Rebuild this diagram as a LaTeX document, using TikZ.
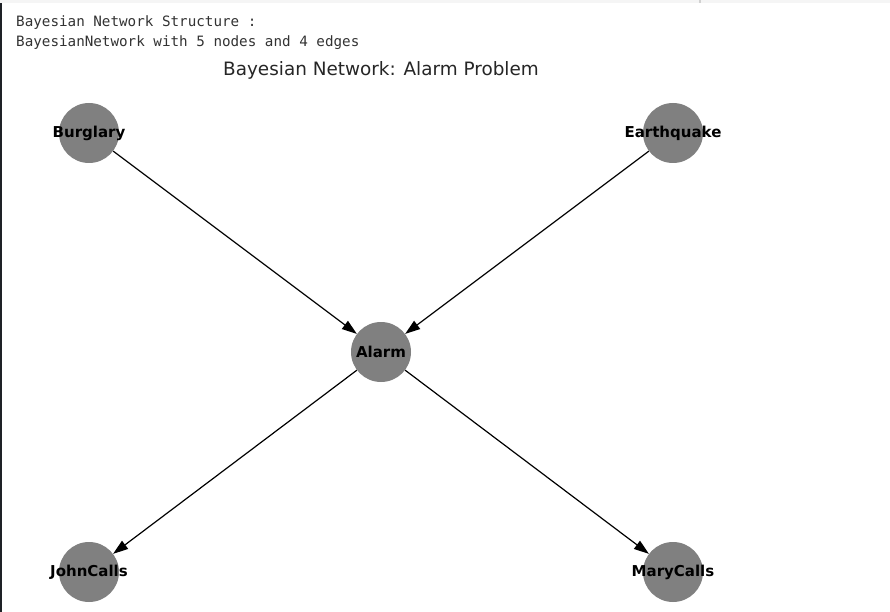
\documentclass[tikz,border=0pt]{standalone}
\usepackage{fontspec}
\setmainfont{DejaVu Sans}
\newfontfamily\monofont{DejaVu Sans Mono}
\usetikzlibrary{arrows.meta}
\definecolor{nodegray}{HTML}{808080}
\definecolor{outtext}{HTML}{333333}
\definecolor{panelbar}{HTML}{1E2126}
\tikzset{bnode/.style={circle, fill=nodegray, minimum size=60pt, inner sep=0pt},
         nodelabel/.style={font=\fontsize{15}{15}\selectfont\bfseries, text=black, inner sep=0pt},
         causal/.style={-{Triangle[length=15pt,width=10pt]}, line width=1.2pt, black}}

\begin{document}
\begin{tikzpicture}[x=1pt,y=-1pt]
    \useasboundingbox (0,0) rectangle (890,612);
    \fill[white] (0,0) rectangle (890,612);
    \fill[black!4] (0,0) rectangle (890,3);
    \fill[black!18] (699,0) rectangle (701,3);
    \fill[panelbar] (0,3) rectangle (2,612);

    \node[anchor=base west, inner sep=0pt, text=outtext, font=\monofont\fontsize{14.25}{14.25}\selectfont]
      (head1) at (16,27) {Bayesian Network Structure :};
    \node[anchor=base west, inner sep=0pt, text=outtext, font=\monofont\fontsize{14.25}{14.25}\selectfont]
      (head2) at (16,47) {BayesianNetwork with 5 nodes and 4 edges};

    \node[anchor=base, inner sep=0pt, text=black!85, font=\fontsize{18.4}{18.4}\selectfont]
      (title) at (381,76) {Bayesian Network: Alarm Problem};

    \node[bnode, label={[nodelabel]center:Burglary}] (burglary) at (89,133) {};
    \node[bnode, label={[nodelabel]center:Earthquake}] (earthquake) at (673,133) {};
    \node[bnode, label={[nodelabel]center:Alarm}] (alarm) at (381,352) {};
    \node[bnode, label={[nodelabel]center:JohnCalls}] (johncalls) at (89,572) {};
    \node[bnode, label={[nodelabel]center:MaryCalls}] (marycalls) at (673,572) {};

    \draw[causal] (burglary) -- (alarm);
    \draw[causal] (earthquake) -- (alarm);
    \draw[causal] (alarm) -- (johncalls);
    \draw[causal] (alarm) -- (marycalls);
\end{tikzpicture}
\end{document}
